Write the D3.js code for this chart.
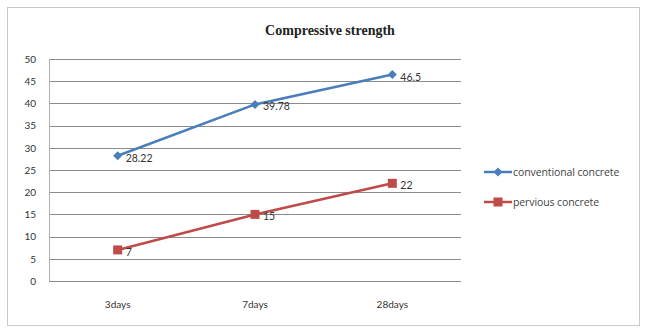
<!DOCTYPE html>
<html>
<head>
<meta charset="utf-8">
<script src="https://cdn.jsdelivr.net/npm/d3@7"></script>
<style>
  html, body { margin: 0; padding: 0; background: #fff; }
  svg { display: block; }
</style>
</head>
<body>
<svg id="chart" width="647" height="332"></svg>
<script>
// Curing ages and compressive strength (MPa) for each mix
const categories = ["3days", "7days", "28days"];
const conventional = [28.22, 39.78, 46.5];
const pervious = [7, 15, 22];
const yTicks = [0, 5, 10, 15, 20, 25, 30, 35, 40, 45, 50];
const seriesNames = ["conventional concrete", "pervious concrete"];

const W = 647, H = 332;
const margin = { left: 49, right: 186, top: 59, bottom: 51 };
const svg = d3.select("#chart");
const labelFont = "Lato, 'Open Sans', sans-serif";

// outer frame
svg.append("rect")
  .attr("x", 7.5).attr("y", 7.5)
  .attr("width", W - 15).attr("height", H - 14)
  .attr("fill", "#fff").attr("stroke", "#c8c8c8").attr("stroke-width", 1);

const x = d3.scaleBand().domain(categories)
  .range([margin.left, W - margin.right]);
const y = d3.scaleLinear().domain([0, 50])
  .range([H - margin.bottom, margin.top]);

// title
svg.append("text")
  .attr("x", 330).attr("y", 35)
  .attr("text-anchor", "middle")
  .attr("font-family", "'Liberation Serif', 'Times New Roman', serif")
  .attr("font-weight", "bold").attr("font-size", 14)
  .attr("fill", "#222")
  .text("Compressive strength");

// horizontal gridlines
svg.append("g")
  .selectAll("line").data(yTicks).join("line")
  .attr("x1", x.range()[0]).attr("x2", x.range()[1])
  .attr("y1", d => Math.round(y(d)) + 0.5).attr("y2", d => Math.round(y(d)) + 0.5)
  .attr("stroke", "#8c8c8c").attr("stroke-width", 1.2);

// y axis
const yAxis = svg.append("g")
  .attr("transform", `translate(${x.range()[0]},0)`)
  .call(d3.axisLeft(y).tickValues(yTicks).tickSize(0).tickPadding(13));
yAxis.select(".domain").attr("stroke", "#b0b0b0");
yAxis.selectAll("text")
  .attr("font-family", labelFont)
  .attr("font-size", 10).attr("fill", "#333");

// x axis
const xAxis = svg.append("g")
  .attr("transform", `translate(0,${y(0)})`)
  .call(d3.axisBottom(x).tickSize(0).tickPadding(20));
xAxis.select(".domain").remove();
xAxis.selectAll("text")
  .attr("font-family", labelFont)
  .attr("font-size", 10).attr("fill", "#333");

const cx = d => x(d) + x.bandwidth() / 2;
const line = d3.line().x(d => cx(d.cat)).y(d => y(d.v));

// marker shapes: small diamond and square
const diamond = r => `M0,${-r}L${r},0L0,${r}L${-r},0Z`;
const square = r => `M${-r},${-r}H${r}V${r}H${-r}Z`;

const series = [
  { name: seriesNames[0], values: conventional, color: "#4a7ebb", shape: () => diamond(4.5) },
  { name: seriesNames[1], values: pervious, color: "#be4b48", shape: () => square(4.5) }
];

series.forEach(s => {
  const pts = categories.map((c, i) => ({ cat: c, v: s.values[i] }));
  svg.append("path").datum(pts)
    .attr("d", line).attr("fill", "none")
    .attr("stroke", s.color).attr("stroke-width", 2.6);
  svg.append("g").selectAll("path").data(pts).join("path")
    .attr("transform", d => `translate(${cx(d.cat)},${y(d.v)})`)
    .attr("d", s.shape).attr("fill", s.color);
  svg.append("g").selectAll("text").data(pts).join("text")
    .attr("x", d => cx(d.cat) + 8).attr("y", d => y(d.v) + 6)
    .attr("font-family", labelFont)
    .attr("font-size", 10.5).attr("fill", "#333")
    .text(d => d.v);
});

// legend
const legend = svg.append("g").attr("transform", "translate(484,172)");
series.forEach((s, i) => {
  const g = legend.append("g").attr("transform", `translate(0,${i * 30})`);
  g.append("line").attr("x1", 0).attr("x2", 28)
    .attr("stroke", s.color).attr("stroke-width", 2.5);
  g.append("path").attr("transform", "translate(14,0)")
    .attr("d", s.shape).attr("fill", s.color);
  g.append("text").attr("x", 29).attr("y", 3.5)
    .attr("font-family", "'Open Sans', sans-serif")
    .attr("font-size", 10.5).attr("fill", "#444")
    .attr("letter-spacing", -0.1)
    .text(s.name);
});
</script>
</body>
</html>
